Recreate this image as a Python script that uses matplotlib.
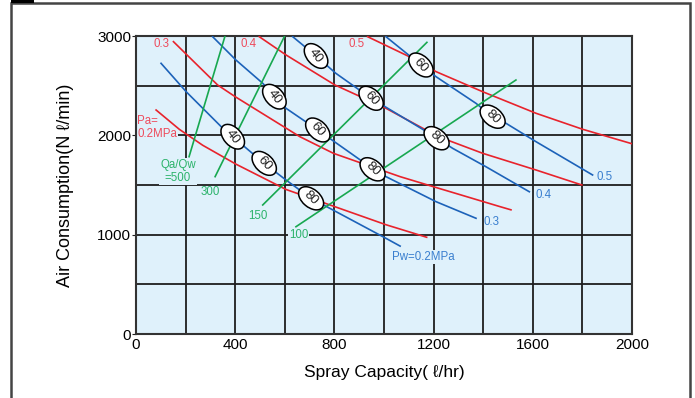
import matplotlib.pyplot as plt
import matplotlib.transforms as mtransforms
from matplotlib.patches import Ellipse, Rectangle

plt.rcParams['font.family'] = ['Liberation Sans', 'DejaVu Sans']

# Air pressure curves (Pa, MPa)
pa_02_x = [81, 175, 269, 403, 605, 706, 1008, 1172]
pa_02_y = [2255, 2060, 1900, 1710, 1455, 1366, 1100, 974]
pa_03_x = [151, 329, 400, 661, 796, 950, 1065, 1199, 1468, 1512]
pa_03_y = [2943, 2507, 2389, 1986, 1819, 1684, 1584, 1483, 1282, 1250]
pa_04_x = [497, 605, 802, 1008, 1169, 1237, 1398, 1613, 1798]
pa_04_y = [2993, 2809, 2507, 2272, 2054, 1970, 1819, 1651, 1500]
pa_05_x = [934, 1102, 1210, 1398, 1613, 1801, 2003]
pa_05_y = [2993, 2792, 2641, 2439, 2222, 2061, 1913]

# Water pressure curves (Pw, MPa)
pw_02_x = [101, 202, 350, 390, 517, 605, 706, 1008, 1065]
pw_02_y = [2725, 2440, 2071, 1986, 1718, 1550, 1366, 963, 885]
pw_03_x = [309, 403, 511, 605, 733, 914, 954, 1008, 1210, 1371]
pw_03_y = [2993, 2758, 2524, 2272, 2054, 1735, 1658, 1584, 1332, 1165]
pw_04_x = [632, 726, 806, 948, 1183, 1212, 1277, 1411, 1586]
pw_04_y = [2993, 2799, 2624, 2373, 2020, 1971, 1869, 1684, 1432]
pw_05_x = [1008, 1149, 1210, 1371, 1438, 1492, 1613, 1841]
pw_05_y = [2993, 2708, 2590, 2322, 2188, 2121, 1936, 1601]

# Qa/Qw ratio lines
qa_500_x, qa_500_y = [214, 359], [1785, 3000]
qa_300_x, qa_300_y = [319, 598], [1584, 2993]
qa_150_x, qa_150_y = [511, 1173], [1299, 2936]
qa_100_x, qa_100_y = [645, 1532], [1080, 2557]

# ellipse markers on the Pw curves
mark_txt = ['40', '40', '40', '60', '60', '60', '60', '80', '80', '80', '80']
mark_x = [390, 558, 726, 517, 733, 948, 1149, 706, 954, 1212, 1438]
mark_y = [1986, 2389, 2799, 1718, 2054, 2373, 2708, 1366, 1658, 1971, 2188]
mark_ang = [-48, -48, -48, -44, -44, -44, -44, -40, -40, -40, -40]

x_ticks = [0, 400, 800, 1200, 1600, 2000]
y_ticks = [0, 1000, 2000, 3000]

RED = '#e8232c'
RED_T = '#ee4b5c'
BLUE = '#1c62b9'
BLUE_T = '#3a7fcf'
GREEN = '#17a850'
GREEN_T = '#2cb36b'
BG = '#dff1fb'

fig = plt.figure(figsize=(6.95, 3.98), dpi=100)
ax = fig.add_axes([136 / 695, 1 - 334 / 398, 496 / 695, 298 / 398])
ax.set_facecolor(BG)
ax.set_xlim(0, 2000)
ax.set_ylim(0, 3000)

ax.set_xticks(x_ticks)
ax.set_yticks(y_ticks)
ax.set_xticks(range(0, 2001, 200), minor=True)
ax.set_yticks(range(0, 3001, 500), minor=True)
ax.grid(which='both', color='#1e1e1e', linewidth=1.3, zorder=1)
ax.set_axisbelow(True)
ax.tick_params(axis='y', which='major', length=3, pad=0.5, labelsize=11, color='#222')
ax.tick_params(axis='x', which='major', length=0, pad=3, labelsize=11)
ax.tick_params(which='minor', length=0)
for s in ax.spines.values():
    s.set_color('#333333')
    s.set_linewidth(1.5)

for xs, ys in [(pa_02_x, pa_02_y), (pa_03_x, pa_03_y), (pa_04_x, pa_04_y), (pa_05_x, pa_05_y)]:
    ax.plot(xs, ys, color=RED, lw=1.2, zorder=3)
for xs, ys in [(pw_02_x, pw_02_y), (pw_03_x, pw_03_y), (pw_04_x, pw_04_y), (pw_05_x, pw_05_y)]:
    ax.plot(xs, ys, color=BLUE, lw=1.2, zorder=3)
for xs, ys in [(qa_500_x, qa_500_y), (qa_300_x, qa_300_y), (qa_150_x, qa_150_y), (qa_100_x, qa_100_y)]:
    ax.plot(xs, ys, color=GREEN, lw=1.2, zorder=3)

# ellipse labels
for t, x, y, a in zip(mark_txt, mark_x, mark_y, mark_ang):
    trans = fig.dpi_scale_trans + mtransforms.ScaledTranslation(x, y, ax.transData)
    ax.add_patch(Ellipse((0, 0), 0.29, 0.18, angle=a, transform=trans,
                         fc='white', ec='black', lw=1.1, zorder=5))
    ax.text(x, y, t, rotation=a - 4, rotation_mode='anchor', ha='center', va='center',
            fontsize=9.5, color='#222', zorder=6)

lab = dict(fontsize=8.3, zorder=2)
bb = dict(fc=BG, ec='none', pad=0.6)
ax.text(101, 2920, '0.3', color=RED_T, ha='center', va='center', **lab)
ax.text(452, 2920, '0.4', color=RED_T, ha='center', va='center', **lab)
ax.text(891, 2920, '0.5', color=RED_T, ha='center', va='center', **lab)
ax.text(6, 2080, 'Pa=\n0.2MPa', color=RED_T, ha='left', va='center', linespacing=1.05,
        bbox=bb, **lab)
ax.text(169, 1636, 'Qa/Qw\n=500', color=GREEN_T, ha='center', va='center', linespacing=1.1,
        bbox=bb, **lab)
ax.text(298, 1430, '300', color=GREEN_T, ha='center', va='center', **lab)
ax.text(492, 1188, '150', color=GREEN_T, ha='center', va='center', **lab)
ax.text(657, 997, '100', color=GREEN_T, ha='center', va='center', bbox=bb, **lab)
ax.text(1034, 775, 'Pw=0.2MPa', color=BLUE_T, ha='left', va='center', bbox=bb, **lab)
ax.text(1403, 1125, '0.3', color=BLUE_T, ha='left', va='center', **lab)
ax.text(1610, 1398, '0.4', color=BLUE_T, ha='left', va='center', **lab)
ax.text(1856, 1578, '0.5', color=BLUE_T, ha='left', va='center', **lab)

ax.set_xlabel('Spray Capacity( ℓ/hr)', fontsize=12.5, labelpad=9)
ax.set_ylabel('Air Consumption(N ℓ/min)', fontsize=13, labelpad=17)

# outer frame and tab
fig.add_artist(Rectangle((11 / 695, -0.02), 679 / 695, 1.02 - 3 / 398, transform=fig.transFigure,
                         fill=False, ec='#444444', lw=1.8))
fig.add_artist(Rectangle((11 / 695, 1 - 3 / 398), 23 / 695, 3 / 398, transform=fig.transFigure,
                         fc='black', ec='none'))

plt.savefig('out.png', dpi=100)
